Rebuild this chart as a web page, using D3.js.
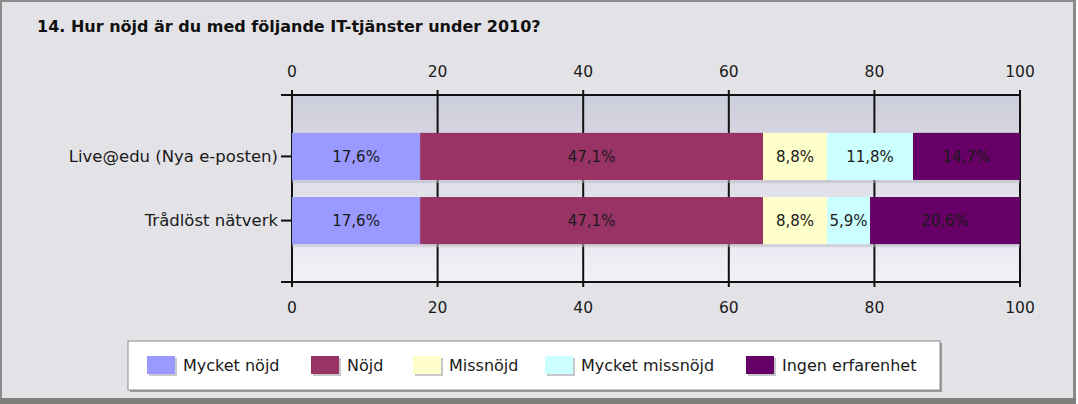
<!DOCTYPE html>
<html>
<head>
<meta charset="utf-8">
<script src="https://cdn.jsdelivr.net/npm/d3@7"></script>
<style>
  body { margin: 0; background: #ffffff; }
  svg { display: block; font-family: "DejaVu Sans", Verdana, sans-serif; }
</style>
</head>
<body>
<svg id="chart" width="1078" height="404"></svg>
<script>
var title = "14. Hur nöjd är du med följande IT-tjänster under 2010?";
var categories = ["Live@edu (Nya e-posten)", "Trådlöst nätverk"];
var series = ["Mycket nöjd", "Nöjd", "Missnöjd", "Mycket missnöjd", "Ingen erfarenhet"];
var colors = ["#9999ff", "#993366", "#ffffcc", "#ccffff", "#660066"];
var values = [
    [17.6, 47.1, 8.8, 11.8, 14.7],
    [17.6, 47.1, 8.8, 5.9, 20.6]
];
var ticks = [0, 20, 40, 60, 80, 100];

var svg = d3.select("#chart"),
    margins = {"left": 292, "right": 58, "top": 95, "bottom": 122},
    width = 1078,
    height = 404;

// frame
svg.append("rect").attr("x", 0).attr("y", 0).attr("width", 1076).attr("height", 404).attr("fill", "#8a8a8a");
svg.append("rect").attr("x", 2).attr("y", 2).attr("width", 1071).attr("height", 396).attr("fill", "#e3e3e7");
svg.append("rect").attr("x", 0).attr("y", 398).attr("width", 1076).attr("height", 6).attr("fill", "#7d7f7b");

svg.append("text").attr("x", 37).attr("y", 32).text(title)
    .style("font-weight", "bold").style("font-size", "16px").attr("fill", "#111");

var x = d3.scaleLinear().domain([0, 100]).range([margins.left, width - margins.right]),
    y = d3.scaleBand().domain(categories).range([margins.top, height - margins.bottom])
        .paddingInner(0.266).paddingOuter(0.59);

var defs = svg.append("defs");
var grad = defs.append("linearGradient").attr("id", "bg").attr("x1", 0).attr("y1", 0).attr("x2", 0).attr("y2", 1);
grad.append("stop").attr("offset", "0%").attr("stop-color", "#cdcedb");
grad.append("stop").attr("offset", "100%").attr("stop-color", "#f1f1f8");

svg.append("rect").attr("x", x(0)).attr("y", margins.top)
    .attr("width", x(100) - x(0)).attr("height", height - margins.bottom - margins.top)
    .attr("fill", "url(#bg)");

// grid lines with outward ticks
svg.append("g").selectAll("line").data(ticks).enter().append("line")
    .attr("x1", d => x(d)).attr("x2", d => x(d))
    .attr("y1", margins.top - 5).attr("y2", height - margins.bottom + 5)
    .attr("stroke", "#111").attr("stroke-width", 2);

// category axis ticks
var catTicks = [margins.top, height - margins.bottom].concat(categories.map(c => y(c) + y.bandwidth() / 2));
svg.append("g").selectAll("line").data(catTicks).enter().append("line")
    .attr("x1", margins.left - 11).attr("x2", margins.left)
    .attr("y1", d => d).attr("y2", d => d)
    .attr("stroke", "#111").attr("stroke-width", 2);

svg.append("line").attr("x1", margins.left - 11).attr("x2", x(100))
    .attr("y1", margins.top).attr("y2", margins.top).attr("stroke", "#111").attr("stroke-width", 2);
svg.append("line").attr("x1", margins.left - 11).attr("x2", x(100))
    .attr("y1", height - margins.bottom).attr("y2", height - margins.bottom).attr("stroke", "#111").attr("stroke-width", 2);

// bars
var stacked = values.map((row, i) => {
    var acc = 0;
    return row.map((v, j) => { var s = acc; acc += v; return {cat: categories[i], s: s, e: acc, v: v, k: j}; });
});

var rows = svg.append("g").selectAll("g").data(stacked).enter().append("g");
rows.append("rect")
    .attr("x", x(0)).attr("y", d => y(d[0].cat) + 3)
    .attr("width", x(100) - x(0)).attr("height", y.bandwidth())
    .attr("fill", "#b8b8c4").attr("opacity", 0.5);
rows.selectAll("rect.seg").data(d => d).enter().append("rect").classed("seg", true)
    .attr("x", d => x(d.s)).attr("y", d => y(d.cat))
    .attr("width", d => x(d.e) - x(d.s)).attr("height", y.bandwidth())
    .attr("fill", d => colors[d.k]);
rows.selectAll("text").data(d => d).enter().append("text")
    .attr("x", d => (x(d.s) + x(d.e)) / 2).attr("y", d => y(d.cat) + y.bandwidth() / 2)
    .attr("text-anchor", "middle").attr("dy", "0.35em")
    .style("font-size", "15px").attr("fill", "#1a1a1a")
    .text(d => d.v.toFixed(1).replace(".", ",") + "%");

// category labels
svg.append("g").selectAll("text").data(categories).enter().append("text")
    .attr("x", margins.left - 14).attr("y", d => y(d) + y.bandwidth() / 2)
    .attr("dy", "0.35em").attr("text-anchor", "end")
    .style("font-size", "16.5px").attr("fill", "#1a1a1a").text(d => d);

// tick labels top and bottom
[72, 308].forEach(ty => {
    svg.append("g").selectAll("text").data(ticks).enter().append("text")
        .attr("x", d => x(d)).attr("y", ty).attr("dy", "0.35em").attr("text-anchor", "middle")
        .style("font-size", "15.5px").attr("fill", "#1a1a1a").text(d => d);
});

// legend
var lg = svg.append("g");
lg.append("rect").attr("x", 130).attr("y", 343).attr("width", 812).attr("height", 49).attr("fill", "#9a9a9a");
lg.append("rect").attr("x", 128).attr("y", 341).attr("width", 812).attr("height", 49)
    .attr("fill", "#ffffff").attr("stroke", "#8c8c8c").attr("stroke-width", 1);
var legendX = [147, 311, 413, 545, 746];
var items = lg.selectAll("g").data(series).enter().append("g")
    .attr("transform", (d, i) => "translate(" + legendX[i] + ",356)");
items.append("rect").attr("x", 2).attr("y", 2).attr("width", 28).attr("height", 18).attr("fill", "#c8c8cc");
items.append("rect").attr("width", 28).attr("height", 18).attr("fill", (d, i) => colors[i]);
items.append("text").attr("x", 36).attr("y", 9).attr("dy", "0.35em")
    .style("font-size", "16px").attr("fill", "#1a1a1a").text(d => d);
</script>
</body>
</html>
